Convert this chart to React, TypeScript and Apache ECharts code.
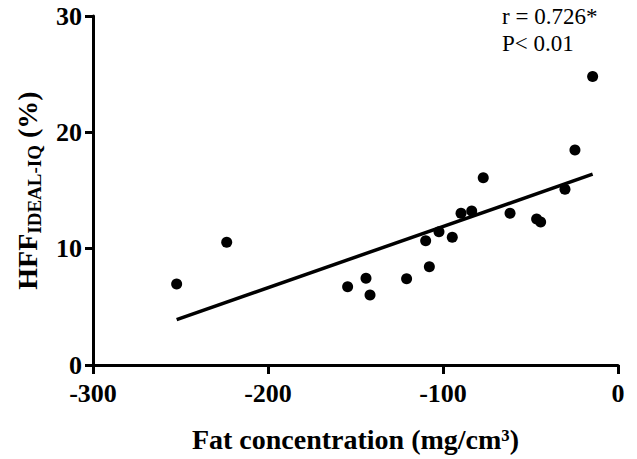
import React, { useEffect, useRef } from "react";
import * as echarts from "echarts";

const fatConcentration = [
  -252.2, -223.6, -154.5, -144, -141.7, -120.8, -109.9, -107.8, -102.3, -94.7,
  -89.7, -83.6, -77, -61.7, -46.5, -44.2, -30.3, -24.6, -14.5,
];
const hffValues = [
  6.96, 10.55, 6.73, 7.45, 6.02, 7.42, 10.69, 8.45, 11.46, 10.98,
  13.04, 13.24, 16.1, 13.04, 12.55, 12.3, 15.1, 18.49, 24.8,
];
const fitX = [-252.2, -14.5];
const fitY = [3.9, 16.4];
const xTicks = { min: -300, max: 0, interval: 100 };
const yTicks = { min: 0, max: 30, interval: 10 };
const annotationLines = ["r = 0.726*", "P< 0.01"];

const SERIF = "'Liberation Serif', 'Times New Roman', serif";

export default function App() {
  const ref = useRef<HTMLDivElement>(null);
  useEffect(() => {
    if (!ref.current) return;
    const chart = echarts.init(ref.current, undefined, { renderer: "svg" });
    const axisCommon = {
      axisLine: { show: true, onZero: false, lineStyle: { color: "#000", width: 3 } },
      axisTick: { show: true, inside: false, lineStyle: { color: "#000", width: 3 } },
      splitLine: { show: false },
    };
    chart.setOption({
      animation: false,
      backgroundColor: "#fff",
      grid: { left: 93, right: 19, top: 16, bottom: 94, containLabel: false },
      xAxis: {
        type: "value",
        ...xTicks,
        ...axisCommon,
        axisTick: { ...axisCommon.axisTick, length: 9 },
        axisLabel: {
          margin: 15,
          color: "#000",
          fontFamily: SERIF,
          fontWeight: "bold",
          fontSize: 26,
        },
        name: "Fat concentration (mg/cm³)",
        nameLocation: "middle",
        nameGap: 60,
        nameTextStyle: {
          color: "#000",
          fontFamily: SERIF,
          fontWeight: "bold",
          fontSize: 28,
        },
      },
      yAxis: {
        type: "value",
        ...yTicks,
        ...axisCommon,
        axisTick: { ...axisCommon.axisTick, length: 8 },
        axisLabel: {
          margin: 11,
          color: "#000",
          fontFamily: SERIF,
          fontWeight: "bold",
          fontSize: 26,
        },
        name: "{a|HFF}{b|IDEAL-IQ}{a| (%)}",
        nameLocation: "middle",
        nameGap: 50,
        nameTextStyle: {
          color: "#000",
          fontFamily: SERIF,
          fontWeight: "bold",
          rich: {
            a: { fontFamily: SERIF, fontWeight: "bold", fontSize: 28, color: "#000", lineHeight: 32 },
            b: {
              fontFamily: SERIF,
              fontWeight: "bold",
              fontSize: 19,
              color: "#000",
              lineHeight: 32,
              padding: [14, 0, 0, 0],
            },
          },
        },
      },
      graphic: [
        {
          type: "text",
          left: 502,
          top: 3,
          style: {
            text: annotationLines.join("\n"),
            fontFamily: SERIF,
            fontSize: 23,
            lineHeight: 27,
            fill: "#000",
          },
        },
      ],
      series: [
        {
          type: "line",
          data: fitX.map((x, i) => [x, fitY[i]]),
          showSymbol: false,
          symbol: "none",
          lineStyle: { color: "#000", width: 3.5 },
          z: 2,
        },
        {
          type: "scatter",
          data: fatConcentration.map((x, i) => [x, hffValues[i]]),
          symbol: "circle",
          symbolSize: 11,
          itemStyle: { color: "#000", opacity: 1 },
          z: 3,
        },
      ],
    });
    return () => chart.dispose();
  }, []);
  return <div ref={ref} style={{ width: 637, height: 459, position: "absolute", left: 0, top: 0 }} />;
}
